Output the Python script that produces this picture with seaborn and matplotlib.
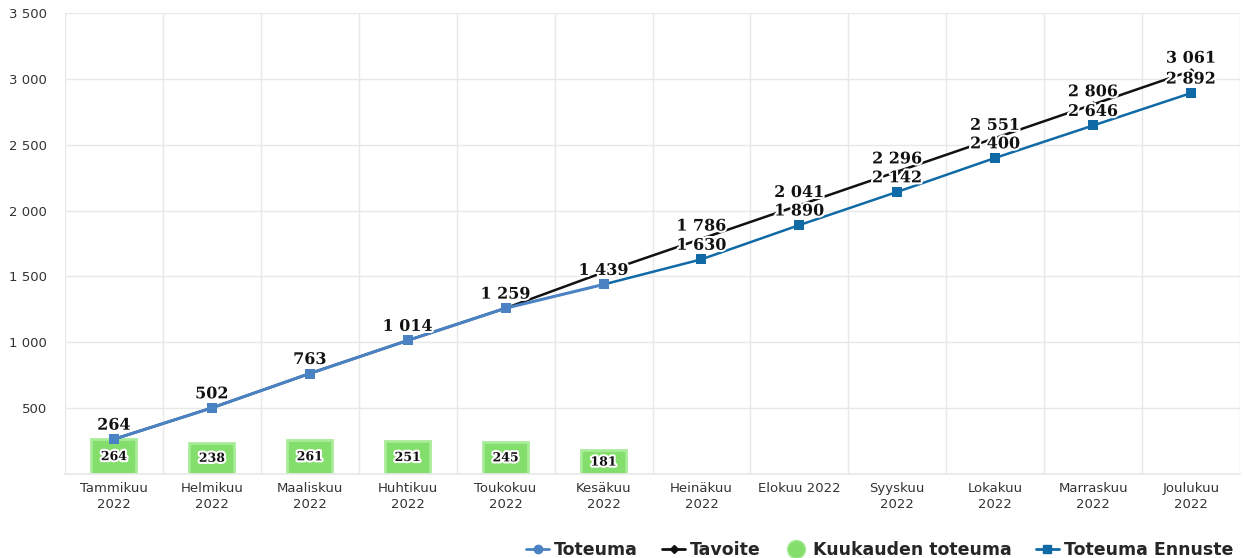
import numpy as np
import pandas as pd
import matplotlib
matplotlib.use("Agg")
import matplotlib.pyplot as plt
import matplotlib.patheffects as pe
from matplotlib.lines import Line2D
from matplotlib.ticker import FuncFormatter, FixedLocator
import seaborn as sns

# ---------------- data ----------------
months = ["Tammikuu\n2022", "Helmikuu\n2022", "Maaliskuu\n2022", "Huhtikuu\n2022",
          "Toukokuu\n2022", "Kesäkuu\n2022", "Heinäkuu\n2022", "Elokuu 2022",
          "Syyskuu\n2022", "Lokakuu\n2022", "Marraskuu\n2022", "Joulukuu\n2022"]
monthly_actual = [264, 238, 261, 251, 245, 181]            # Kuukauden toteuma
cumulative_actual = [264, 502, 763, 1014, 1259, 1439]      # Toteuma
target = [264, 502, 763, 1014, 1259, 1531, 1786, 2041, 2296, 2551, 2806, 3061]  # Tavoite
forecast = [1439, 1630, 1890, 2142, 2400, 2646, 2892]      # Toteuma Ennuste (from Kesäkuu)
target_labelled_from = 6
forecast_start = 5
y_ticks = [500, 1000, 1500, 2000, 2500, 3000, 3500]

# ---------------- style ----------------
sns.set_theme(style="white")
plt.rcParams["font.family"] = ["DejaVu Sans"]

c_act = "#4a82c3"
c_fc = "#0f6aa6"
c_tgt = "#111111"
c_bar = "#84de6c"
c_bar_edge = "#a8eb98"
c_grid = "#e8e8e8"

fig = plt.figure(figsize=(12.45, 5.58), dpi=100)
ax = fig.add_axes([65 / 1245, 1 - 474 / 558, (1240 - 65) / 1245, (474 - 13) / 558])

idx = np.arange(len(months))

df_bar = pd.DataFrame({"x": idx[:len(monthly_actual)], "v": monthly_actual})
df_act = pd.DataFrame({"x": idx[:len(cumulative_actual)], "v": cumulative_actual})
df_tgt = pd.DataFrame({"x": idx, "v": target})
df_fc = pd.DataFrame({"x": idx[forecast_start:forecast_start + len(forecast)], "v": forecast})

# bars
sns.barplot(data=df_bar, x="x", y="v", native_scale=True, width=0.46, color=c_bar,
            saturation=1, edgecolor=c_bar_edge, linewidth=2, ax=ax, zorder=2)

# lines
sns.lineplot(data=df_tgt, x="x", y="v", color=c_tgt, lw=1.8, marker="D", markersize=3.5,
             markeredgewidth=0, ax=ax, zorder=3)
sns.lineplot(data=df_fc, x="x", y="v", color=c_fc, lw=1.8, marker="s", markersize=7,
             markeredgewidth=0, ax=ax, zorder=4)
sns.lineplot(data=df_act, x="x", y="v", color=c_act, lw=2.2, marker="s", markersize=7,
             markeredgewidth=0, ax=ax, zorder=5)


def fmt(v):
    return f"{int(v):,}".replace(",", " ")


halo = [pe.withStroke(linewidth=3, foreground="white")]
lab_kw = dict(ha="center", va="bottom", fontsize=11.5, fontweight="bold",
              family="DejaVu Serif", color="#111111", path_effects=halo, zorder=10,
              textcoords="offset points")

for x, v in zip(df_act["x"], df_act["v"]):
    ax.annotate(fmt(v), (x, v), xytext=(0, 4), **lab_kw)
for x, v in zip(df_tgt["x"][target_labelled_from:], df_tgt["v"][target_labelled_from:]):
    ax.annotate(fmt(v), (x, v), xytext=(0, 3), **lab_kw)
for x, v in zip(df_fc["x"][1:], df_fc["v"][1:]):
    ax.annotate(fmt(v), (x, v), xytext=(0, 4), **lab_kw)
for x, v in zip(df_bar["x"], df_bar["v"]):
    ax.text(x, v / 2, fmt(v), ha="center", va="center", fontsize=9, fontweight="bold",
            family="DejaVu Serif", color="#111111", path_effects=halo, zorder=10)

# axes
ax.set_xlim(-0.5, len(months) - 0.5)
ax.set_ylim(0, 3500)
ax.set_xticks(idx)
ax.set_xticklabels(months, fontsize=9.5, color="#333333", linespacing=1.25)
ax.xaxis.set_minor_locator(FixedLocator(np.arange(-0.5, len(months), 1.0)))
ax.set_yticks(y_ticks)
ax.yaxis.set_major_formatter(FuncFormatter(lambda v, p: fmt(v)))
ax.tick_params(axis="y", labelsize=9.5, labelcolor="#333333", length=10, color=c_grid, width=1, pad=3)
ax.tick_params(axis="x", which="major", length=0, pad=6)
ax.tick_params(axis="x", which="minor", length=10, color=c_grid, width=1)
ax.grid(axis="y", color=c_grid, lw=1)
ax.grid(axis="x", which="minor", color=c_grid, lw=1)
ax.set_axisbelow(True)
for s in ["left", "right", "top"]:
    ax.spines[s].set_visible(False)
ax.spines["bottom"].set_color(c_grid)
ax.set_xlabel("")
ax.set_ylabel("")

handles = [
    Line2D([], [], color=c_act, lw=2, marker="o", markersize=6),
    Line2D([], [], color=c_tgt, lw=2, marker="D", markersize=4),
    Line2D([], [], color="none", marker="o", markersize=13, markerfacecolor=c_bar,
           markeredgecolor=c_bar_edge),
    Line2D([], [], color=c_fc, lw=2, marker="s", markersize=6),
]
labels = ["Toteuma", "Tavoite", "Kuukauden toteuma", "Toteuma Ennuste"]
fig.legend(handles, labels, loc="lower right", bbox_to_anchor=(1.003, -0.03), ncol=4,
           frameon=False, prop={"weight": "bold", "size": 12.5}, handlelength=1.3,
           handletextpad=0.3, columnspacing=1.4)

fig.savefig("out.png", dpi=100, facecolor="white")
